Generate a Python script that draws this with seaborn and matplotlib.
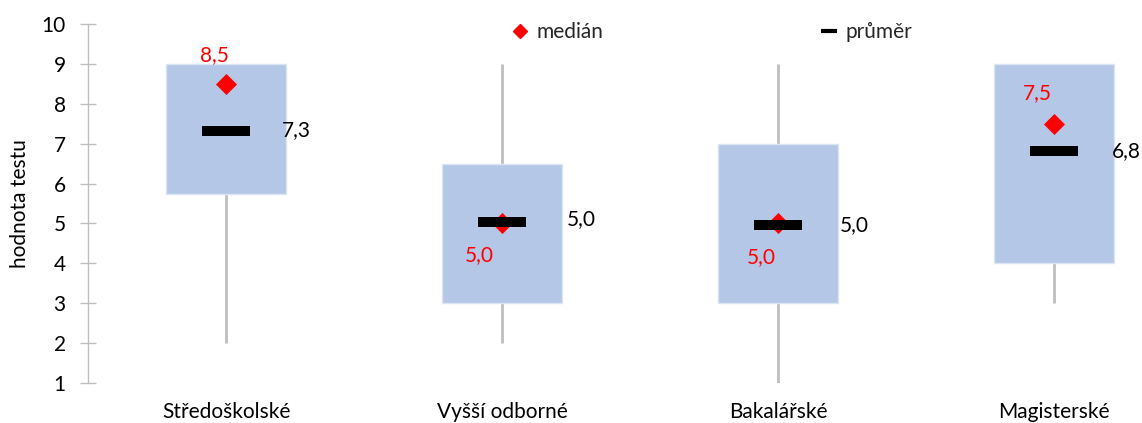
import numpy as np
import pandas as pd
import seaborn as sns
import matplotlib.pyplot as plt
from matplotlib.lines import Line2D

# Test score summary by education level
categories = ["Středoškolské", "Vyšší odborné", "Bakalářské", "Magisterské"]
minimum = [2.0, 2.0, 1.0, 3.0]
q1 = [5.75, 3.0, 3.0, 4.0]
q3 = [9.0, 6.5, 7.0, 9.0]
maximum = [9.0, 9.0, 9.0, 9.0]
median = [8.5, 5.0, 5.0, 7.5]
mean = [7.33, 5.04, 4.97, 6.81]

# label offsets (points) for median and mean annotations
median_offsets = [(-8, 21), (-16, -23), (-12, -24), (-12, 22)]
mean_offsets = [(51, 0), (57, 2), (55, 0), (52, 0)]

sns.set_theme(style="white")
plt.rcParams["font.family"] = ["Lato", "DejaVu Sans"]

df = pd.DataFrame({
    "kategorie": categories,
    "min": minimum, "q1": q1, "q3": q3, "max": maximum,
    "median": median, "mean": mean,
})
df["iqr"] = df["q3"] - df["q1"]

fig = plt.figure(figsize=(11.42, 4.23), dpi=100)
ax = fig.add_axes([88 / 1142, 1 - 383 / 423, 1 - 88 / 1142, (383 - 24) / 423])

grey = "#BFBFBF"
x = np.arange(len(categories))

# whiskers from minimum to maximum
ax.vlines(x, df["min"], df["max"], color=grey, linewidth=2, zorder=1)

# boxes from first to third quartile
sns.barplot(data=df, x="kategorie", y="iqr", bottom=df["q1"], color="#B4C7E7",
            saturation=1, width=0.435, edgecolor="#DCE5F4", linewidth=1,
            ax=ax, zorder=2)

# mean as a thick horizontal bar marker
bar_marker = [(-1, -0.21), (1, -0.21), (1, 0.21), (-1, 0.21), (-1, -0.21)]
sns.scatterplot(data=df, x="kategorie", y="median", marker="D", color="#FF0000",
                s=115, linewidth=0, ax=ax, zorder=3, legend=False)
sns.scatterplot(data=df, x="kategorie", y="mean", marker=bar_marker, color="black",
                s=1200, linewidth=0, ax=ax, zorder=4, legend=False)

fs = 15
for i in range(len(categories)):
    ax.annotate(f"{median[i]:.1f}".replace(".", ","), (x[i], median[i]),
                xytext=median_offsets[i], textcoords="offset points",
                ha="center", va="center", color="#FF0000", fontsize=fs, zorder=5)
    ax.annotate(f"{mean[i]:.1f}".replace(".", ","), (x[i], mean[i]),
                xytext=mean_offsets[i], textcoords="offset points",
                ha="center", va="center", color="black", fontsize=fs, zorder=5,
                annotation_clip=False)

ax.set_xlim(-0.5, 3.319)
ax.set_ylim(1, 10)
ax.set_yticks(range(1, 11))
ax.set_xlabel("")
ax.set_ylabel("hodnota testu", fontsize=fs, color="black", labelpad=8)
ax.tick_params(axis="y", which="both", direction="inout", length=12, width=1,
               color=grey, labelsize=fs, labelcolor="black", left=True, pad=10)
ax.tick_params(axis="x", length=0, labelsize=fs, labelcolor="black", pad=14)
for side in ["top", "right", "bottom"]:
    ax.spines[side].set_visible(False)
ax.spines["left"].set_color(grey)
ax.spines["left"].set_linewidth(1)

handles = [
    Line2D([], [], marker="D", color="#FF0000", linestyle="none", markersize=7),
    Line2D([], [], marker="_", color="black", linestyle="none", markersize=11,
           markeredgewidth=3),
]
fig.legend(handles, ["medián", "průměr"], ncol=2, frameon=False, fontsize=fs,
           loc="center", bbox_to_anchor=(712 / 1142, 1 - 32 / 423),
           handlelength=0.8, handletextpad=0.4, columnspacing=10.4)

fig.savefig("out.png", dpi=100)
